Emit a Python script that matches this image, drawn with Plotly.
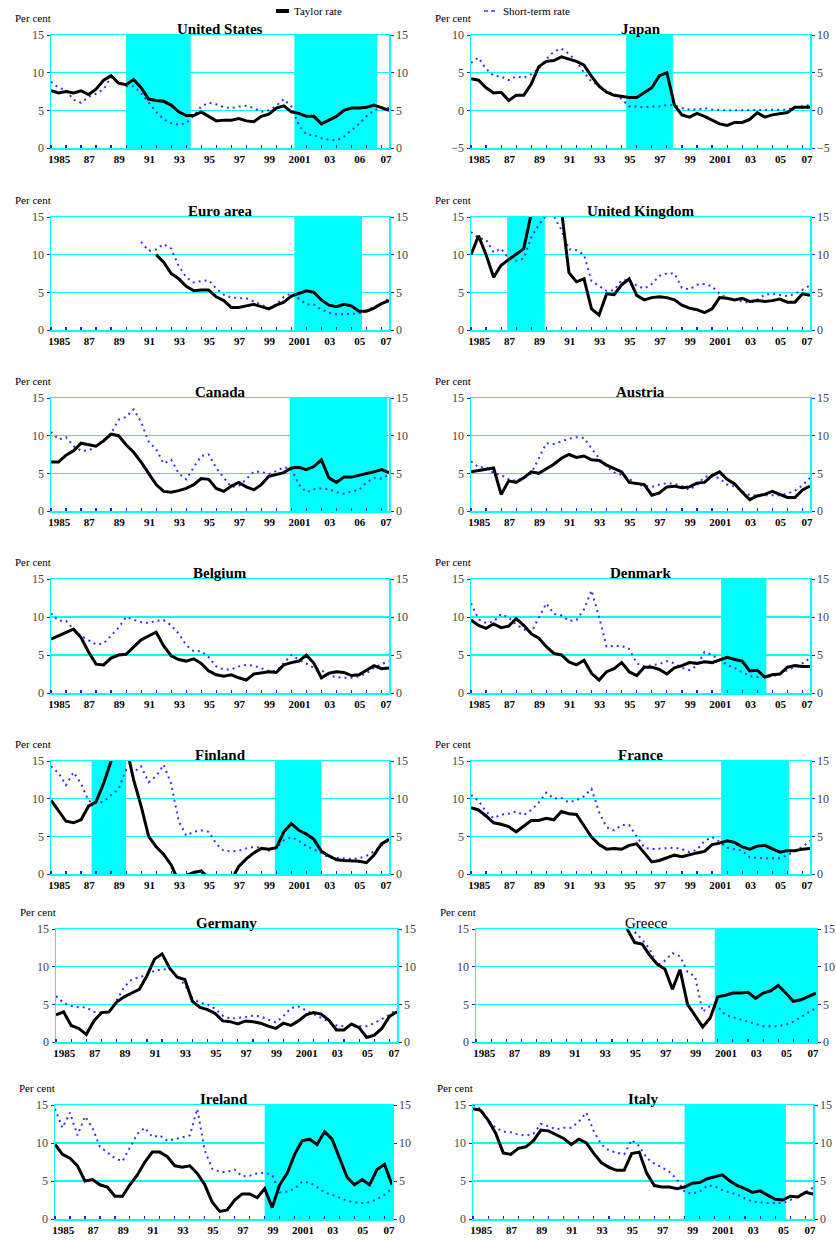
import plotly.graph_objects as go

# ---------------- data ----------------
PERIODS = [1985 + 0.5 * k for k in range(46)]  # semi-annual observations 1985.0 .. 2007.5

TICK_POS = [1985.55, 1987.55, 1989.55, 1991.55, 1993.55, 1995.55, 1997.55, 1999.55,
            2001.55, 2003.55, 2005.55, 2007.3]
TICK_TEXT_05 = ["1985", "87", "89", "91", "93", "95", "97", "99", "2001", "03", "05", "07"]
TICK_TEXT_06 = ["1985", "87", "89", "91", "93", "95", "97", "99", "2001", "03", "06", "07"]

N = None

US_TAYLOR = [7.6, 7.3, 7.5, 7.3, 7.6, 7.1, 7.8, 9.0, 9.6, 8.6,
             8.4, 9.1, 8.0, 6.5, 6.3, 6.2, 5.7, 4.8, 4.3, 4.3,
             4.8, 4.2, 3.6, 3.7, 3.7, 3.9, 3.6, 3.5, 4.2, 4.5,
             5.3, 5.6, 4.8, 4.6, 4.2, 4.2, 3.2, 3.7, 4.2, 5.0,
             5.3, 5.3, 5.4, 5.7, 5.3, 5.0]
US_SHORT = [8.8, 8.0, 7.7, 6.4, 6.0, 6.8, 7.2, 7.8, 9.4, 8.6,
            8.2, 8.2, 7.3, 6.0, 4.8, 3.8, 3.3, 3.1, 3.3, 4.3,
            5.5, 6.0, 5.8, 5.4, 5.3, 5.5, 5.6, 5.3, 4.8, 5.0,
            5.6, 6.5, 5.5, 3.0, 1.8, 1.7, 1.3, 1.1, 1.0, 1.5,
            2.3, 3.2, 4.2, 5.0, 5.3, 5.3]

JP_TAYLOR = [4.2, 4.0, 3.0, 2.3, 2.4, 1.3, 2.0, 2.0, 3.5, 5.8,
             6.5, 6.6, 7.1, 6.8, 6.5, 6.0, 4.5, 3.2, 2.4, 2.0,
             1.8, 1.7, 1.7, 2.4, 3.0, 4.6, 5.0, 0.7, -0.6, -0.9,
             -0.4, -0.8, -1.3, -1.8, -2.0, -1.6, -1.6, -1.2, -0.3, -0.9,
             -0.6, -0.4, -0.3, 0.4, 0.4, 0.4]
JP_SHORT = [6.3, 7.0, 5.5, 4.6, 4.5, 4.0, 4.5, 4.3, 4.8, 5.5,
            6.8, 7.8, 8.2, 7.5, 6.5, 5.0, 3.8, 3.3, 2.5, 2.2,
            1.5, 0.5, 0.5, 0.4, 0.5, 0.5, 0.7, 0.7, 0.3, 0.1,
            0.1, 0.3, 0.1, 0.0, 0.0, 0.0, 0.0, 0.0, 0.0, 0.0,
            0.0, 0.0, 0.1, 0.4, 0.6, 0.7]

EA_TAYLOR = [N] * 14 + [10.0, 9.0, 7.5, 6.8, 5.8, 5.2,
                        5.3, 5.3, 4.4, 3.9, 3.0, 3.0, 3.2, 3.4, 3.1, 2.8,
                        3.3, 3.7, 4.5, 4.8, 5.2, 5.0, 4.0, 3.3, 3.1, 3.4,
                        3.2, 2.5, 2.5, 2.9, 3.5, 3.9]
EA_SHORT = [N] * 12 + [11.7, 10.5, 10.7, 11.4, 10.8, 8.5, 7.0, 6.3,
                       6.5, 6.6, 5.5, 4.7, 4.3, 4.2, 4.2, 3.8, 3.4, 2.9,
                       3.4, 4.4, 4.9, 4.1, 3.4, 3.4, 2.7, 2.3, 2.1, 2.1,
                       2.1, 2.2, 2.6, 3.0, 3.5, 4.2]

UK_TAYLOR = [10.0, 12.5, 10.0, 7.0, 8.6, 9.3, 10.0, 10.8, 15.5, 18.0,
             19.0, 18.0, 16.0, 7.6, 6.4, 6.8, 2.8, 2.0, 4.8, 4.7,
             6.0, 6.8, 4.6, 4.0, 4.3, 4.4, 4.3, 4.0, 3.3, 2.9,
             2.7, 2.3, 2.8, 4.3, 4.2, 4.0, 4.2, 3.8, 3.9, 3.8,
             3.9, 4.1, 3.7, 3.7, 4.8, 4.6]
UK_SHORT = [13.0, 12.2, 12.0, 10.3, 10.8, 9.5, 9.2, 9.5, 12.3, 14.0,
            15.2, 15.1, 13.3, 10.7, 10.6, 10.0, 6.5, 5.8, 5.2, 5.3,
            6.6, 6.6, 5.9, 5.5, 6.1, 7.2, 7.5, 7.5, 5.6, 5.4,
            6.0, 6.1, 5.8, 4.8, 4.2, 4.0, 3.8, 3.6, 4.0, 4.7,
            4.8, 4.6, 4.5, 4.8, 5.4, 5.9]

CA_TAYLOR = [6.5, 6.5, 7.4, 8.0, 9.0, 8.8, 8.6, 9.3, 10.2, 10.0,
             8.8, 7.8, 6.5, 5.0, 3.5, 2.6, 2.5, 2.7, 3.0, 3.5,
             4.3, 4.2, 3.0, 2.6, 3.3, 3.8, 3.2, 2.8, 3.5, 4.6,
             4.9, 5.1, 5.7, 5.8, 5.5, 5.9, 6.8, 4.4, 3.8, 4.5,
             4.5, 4.7, 5.0, 5.2, 5.5, 5.1]
CA_SHORT = [10.5, 9.5, 9.8, 8.6, 8.0, 8.0, 8.6, 9.4, 10.3, 12.1,
            12.5, 13.5, 11.8, 9.2, 8.2, 6.3, 6.8, 5.0, 4.2, 5.8,
            7.3, 7.5, 5.7, 4.4, 3.2, 3.3, 4.3, 5.2, 5.2, 4.9,
            5.3, 5.8, 5.6, 3.5, 2.5, 2.9, 3.0, 2.9, 2.5, 2.3,
            2.6, 2.8, 3.8, 4.4, 4.3, 4.8]

AT_TAYLOR = [5.2, 5.4, 5.5, 5.7, 2.2, 4.0, 3.8, 4.4, 5.2, 5.0,
             5.6, 6.2, 7.0, 7.5, 7.1, 7.3, 6.8, 6.7, 6.1, 5.6,
             5.2, 3.8, 3.6, 3.5, 2.1, 2.4, 3.2, 3.3, 3.1, 3.2,
             3.7, 3.8, 4.7, 5.2, 4.2, 3.6, 2.5, 1.5, 2.0, 2.2,
             2.6, 2.2, 1.8, 1.8, 2.8, 3.3]
AT_SHORT = [6.6, 5.8, 5.8, 5.0, 4.8, 4.2, 4.0, 4.4, 5.0, 7.0,
            9.0, 8.9, 9.3, 9.6, 9.8, 9.7, 8.3, 7.0, 5.9, 5.1,
            4.8, 4.3, 3.5, 3.4, 3.2, 3.5, 3.7, 3.6, 3.3, 2.8,
            3.5, 4.5, 4.8, 4.3, 3.5, 3.3, 2.6, 2.1, 2.1, 2.1,
            2.1, 2.1, 2.3, 2.7, 3.4, 4.4]

BE_TAYLOR = [7.1, 7.5, 8.0, 8.4, 7.3, 5.4, 3.8, 3.7, 4.6, 5.0,
             5.1, 6.1, 7.0, 7.5, 8.0, 6.2, 4.9, 4.4, 4.2, 4.5,
             3.9, 2.9, 2.4, 2.2, 2.4, 2.0, 1.7, 2.5, 2.7, 2.8,
             2.7, 3.7, 4.0, 4.2, 5.0, 3.9, 2.0, 2.6, 2.8, 2.7,
             2.3, 2.4, 3.0, 3.6, 3.2, 3.3]
BE_SHORT = [10.5, 9.5, 9.5, 8.4, 7.5, 7.0, 6.4, 6.5, 7.5, 8.6,
            10.0, 9.6, 9.3, 9.2, 9.5, 9.6, 8.9, 7.8, 6.3, 5.5,
            5.5, 4.7, 3.5, 3.1, 3.1, 3.5, 3.7, 3.6, 3.3, 2.9,
            2.9, 4.0, 5.0, 4.4, 3.8, 3.3, 3.0, 2.3, 2.1, 2.0,
            2.0, 2.2, 2.6, 3.3, 3.8, 4.2]

DK_TAYLOR = [9.6, 8.9, 8.5, 9.1, 8.6, 8.8, 9.8, 8.9, 7.8, 7.2,
             6.1, 5.2, 5.0, 4.1, 3.7, 4.3, 2.6, 1.7, 2.8, 3.2,
             4.0, 2.8, 2.3, 3.4, 3.4, 3.1, 2.5, 3.3, 3.6, 4.0,
             3.9, 4.1, 4.0, 4.3, 4.7, 4.4, 4.2, 2.9, 3.0, 2.1,
             2.4, 2.5, 3.4, 3.6, 3.5, 3.5]
DK_SHORT = [11.8, 9.7, 9.2, 9.4, 10.4, 9.9, 9.0, 8.4, 8.0, 9.8,
            11.8, 10.4, 10.2, 9.5, 9.6, 11.0, 13.5, 10.0, 6.1, 6.2,
            6.2, 5.8, 3.9, 3.5, 3.7, 3.8, 4.2, 3.9, 3.3, 3.0,
            3.6, 5.4, 5.0, 4.3, 3.7, 3.3, 2.8, 2.2, 2.1, 2.1,
            2.2, 2.5, 3.0, 3.5, 3.9, 4.6]

FI_TAYLOR = [9.8, 8.4, 7.0, 6.8, 7.2, 9.0, 9.6, 12.0, 15.5, 18.0,
             17.0, 12.5, 9.0, 5.0, 3.6, 2.6, 1.2, -1.0, -0.2, 0.2,
             0.4, -0.6, -1.5, -1.5, -0.8, 1.0, 2.0, 2.8, 3.4, 3.3,
             3.5, 5.6, 6.7, 5.8, 5.3, 4.6, 3.0, 2.4, 1.9, 1.8,
             1.8, 1.7, 1.5, 2.5, 4.0, 4.6]
FI_SHORT = [14.3, 13.4, 11.8, 13.5, 12.0, 9.7, 9.4, 9.6, 10.5, 11.3,
            13.8, 13.5, 14.3, 12.2, 13.0, 14.5, 12.0, 7.0, 5.1, 5.6,
            5.8, 5.6, 4.0, 3.1, 3.0, 3.1, 3.4, 3.6, 3.5, 3.1,
            3.5, 4.5, 4.9, 4.4, 3.7, 3.3, 2.8, 2.2, 2.1, 2.0,
            2.0, 2.1, 2.4, 3.0, 3.7, 4.5]

FR_TAYLOR = [8.8, 8.5, 7.7, 6.8, 6.6, 6.3, 5.6, 6.4, 7.1, 7.1,
             7.4, 7.2, 8.3, 8.0, 7.9, 6.4, 4.9, 3.9, 3.3, 3.4,
             3.3, 3.8, 4.0, 2.8, 1.6, 1.8, 2.2, 2.5, 2.3, 2.5,
             2.8, 3.0, 3.9, 4.1, 4.4, 4.2, 3.6, 3.3, 3.7, 3.8,
             3.4, 2.9, 3.1, 3.1, 3.3, 3.4]
FR_SHORT = [10.5, 9.7, 8.3, 7.4, 7.9, 8.0, 8.3, 7.8, 8.5, 9.5,
            10.8, 10.0, 10.1, 9.5, 9.8, 10.3, 11.3, 8.2, 6.2, 5.8,
            6.5, 6.5, 5.0, 3.5, 3.3, 3.4, 3.5, 3.5, 3.3, 2.9,
            3.2, 4.4, 4.9, 4.3, 3.5, 3.3, 3.1, 2.2, 2.1, 2.1,
            2.1, 2.1, 2.5, 3.1, 3.6, 4.4]

DE_TAYLOR = [3.6, 4.0, 2.2, 1.8, 1.0, 2.8, 3.9, 4.0, 5.3, 6.0,
             6.5, 7.0, 8.8, 11.0, 11.7, 9.8, 8.6, 8.3, 5.4, 4.6,
             4.3, 3.8, 2.8, 2.7, 2.4, 2.8, 2.7, 2.5, 2.1, 1.8,
             2.5, 2.2, 2.8, 3.6, 3.9, 3.7, 2.9, 1.6, 1.6, 2.4,
             1.9, 0.6, 0.9, 1.8, 3.4, 4.0]
DE_SHORT = [6.1, 5.2, 4.8, 4.6, 4.6, 4.0, 3.9, 3.9, 5.5, 7.3,
            8.3, 8.6, 8.9, 9.5, 9.6, 9.7, 8.7, 7.6, 5.8, 5.2,
            5.0, 4.4, 3.5, 3.1, 3.2, 3.3, 3.5, 3.4, 3.0, 2.6,
            3.4, 4.5, 4.7, 4.2, 3.7, 3.3, 2.7, 2.2, 2.1, 2.1,
            2.0, 2.1, 2.5, 3.1, 3.6, 4.4]

GR_TAYLOR = [N] * 20 + [15.0, 13.2, 13.0, 11.5, 10.3, 9.7, 7.0, 9.6, 5.0, 3.5,
                        2.0, 3.2, 6.0, 6.2, 6.5, 6.5, 6.6, 5.8, 6.5, 6.8,
                        7.5, 6.5, 5.4, 5.6, 6.0, 6.5]
GR_SHORT = [N] * 21 + [14.6, 13.6, 12.3, 10.2, 10.8, 11.8, 11.4, 9.3, 8.7,
                       4.0, 4.8, 4.7, 3.6, 3.3, 3.0, 2.6, 2.3, 2.1, 2.1,
                       2.1, 2.3, 2.7, 3.3, 3.9, 4.5]

IE_TAYLOR = [9.8, 8.5, 8.0, 7.0, 5.0, 5.2, 4.5, 4.2, 3.0, 3.0,
             4.5, 5.8, 7.5, 8.8, 8.8, 8.2, 7.0, 6.8, 7.0, 6.0,
             4.5, 2.2, 1.0, 1.2, 2.5, 3.3, 3.3, 2.8, 4.0, 1.5,
             4.5, 6.0, 8.5, 10.3, 10.5, 9.8, 11.5, 10.5, 8.0, 5.5,
             4.5, 5.2, 4.5, 6.5, 7.2, 4.5]
IE_SHORT = [14.5, 12.0, 14.0, 11.0, 13.5, 12.0, 9.5, 8.8, 8.0, 7.6,
            9.5, 11.2, 12.0, 10.8, 11.0, 10.3, 10.5, 10.8, 11.0, 14.5,
            9.0, 6.6, 6.2, 6.2, 6.5, 5.6, 5.7, 6.0, 6.1, 5.8,
            3.5, 3.6, 4.0, 4.9, 4.8, 4.2, 3.5, 3.2, 2.8, 2.4,
            2.2, 2.1, 2.2, 2.6, 3.2, 4.0]

IT_TAYLOR = [14.5, 14.3, 13.0, 11.3, 8.7, 8.5, 9.3, 9.5, 10.3, 11.7,
             11.6, 11.1, 10.6, 9.8, 10.5, 10.0, 8.6, 7.4, 6.8, 6.4,
             6.4, 8.6, 8.8, 6.0, 4.4, 4.2, 4.2, 4.0, 4.2, 4.7,
             4.8, 5.3, 5.5, 5.8, 5.0, 4.4, 4.0, 3.5, 3.7, 3.1,
             2.6, 2.5, 3.0, 2.9, 3.5, 3.3]
IT_SHORT = [15.0, 14.5, 13.0, 12.0, 11.5, 11.4, 11.1, 11.0, 11.2, 12.5,
            12.2, 11.8, 12.0, 12.0, 12.8, 14.0, 11.5, 9.8, 9.0, 8.7,
            8.5, 10.4, 9.6, 8.0, 7.3, 6.8, 6.2, 5.2, 3.6, 3.3,
            3.6, 4.4, 4.3, 3.8, 3.5, 3.2, 2.7, 2.3, 2.2, 2.1,
            2.1, 2.1, 2.5, 3.0, 3.5, 4.1]

# shaded periods (start, end) in years
US_SHADE = [(1990.0, 1994.3), (2001.2, 2006.7)]
JP_SHADE = [(1995.3, 1998.4)]
EA_SHADE = [(2001.2, 2005.7)]
UK_SHADE = [(1987.4, 1989.9)]
CA_SHADE = [(2000.9, 2007.4)]
AT_SHADE = []
BE_SHADE = []
DK_SHADE = [(2001.6, 2004.6)]
FI_SHADE = [(1987.7, 1990.0), (1999.9, 2003.0)]
FR_SHADE = [(2001.6, 2006.1)]
DE_SHADE = []
GR_SHADE = [(2000.8, 2007.5)]
IE_SHADE = [(1999.0, 2007.5)]
IT_SHADE = [(1999.0, 2005.7)]

PANELS = [
    ("United States", US_TAYLOR, US_SHORT, US_SHADE, "pos", TICK_TEXT_06),
    ("Japan", JP_TAYLOR, JP_SHORT, JP_SHADE, "jp", TICK_TEXT_05),
    ("Euro area", EA_TAYLOR, EA_SHORT, EA_SHADE, "pos", TICK_TEXT_05),
    ("United Kingdom", UK_TAYLOR, UK_SHORT, UK_SHADE, "pos", TICK_TEXT_05),
    ("Canada", CA_TAYLOR, CA_SHORT, CA_SHADE, "pos", TICK_TEXT_06),
    ("Austria", AT_TAYLOR, AT_SHORT, AT_SHADE, "pos", TICK_TEXT_05),
    ("Belgium", BE_TAYLOR, BE_SHORT, BE_SHADE, "pos", TICK_TEXT_05),
    ("Denmark", DK_TAYLOR, DK_SHORT, DK_SHADE, "pos", TICK_TEXT_05),
    ("Finland", FI_TAYLOR, FI_SHORT, FI_SHADE, "pos", TICK_TEXT_05),
    ("France", FR_TAYLOR, FR_SHORT, FR_SHADE, "pos", TICK_TEXT_05),
    ("Germany", DE_TAYLOR, DE_SHORT, DE_SHADE, "pos", TICK_TEXT_05),
    ("Greece", GR_TAYLOR, GR_SHORT, GR_SHADE, "pos", TICK_TEXT_05),
    ("Ireland", IE_TAYLOR, IE_SHORT, IE_SHADE, "pos", TICK_TEXT_05),
    ("Italy", IT_TAYLOR, IT_SHORT, IT_SHADE, "pos", TICK_TEXT_05),
]
Y_SCALES = {"pos": ([0, 15], [0, 5, 10, 15]), "jp": ([-5, 10], [-5, 0, 5, 10])}

# ---------------- layout geometry (pixels) ----------------
W, H = 836, 1241
ROWS = [(35, 148), (217, 330), (398, 511), (579, 693), (761, 874), (929, 1042), (1105, 1219)]
COLS = {"L": (51, 389), "R": (471, 810)}
SPECIAL_X = {"Germany": (56, 397), "Greece": (476, 816), "Ireland": (55, 392), "Italy": (473, 813)}

CYAN = "#00FFFF"
BLUE = "#3434F0"
FONT = "Liberation Serif"

fig = go.Figure()
layout = dict(width=W, height=H, margin=dict(l=0, r=0, t=0, b=0, pad=0, autoexpand=False),
              paper_bgcolor="white", plot_bgcolor="white", showlegend=False,
              font=dict(family=FONT, color="black"))
shapes = []
annotations = []

for i, (name, taylor, short, shades, yscale, ttext) in enumerate(PANELS, start=1):
    row, col = (i - 1) // 2, "L" if i % 2 == 1 else "R"
    x0, x1 = SPECIAL_X.get(name, COLS[col])
    y0, y1 = ROWS[row]
    yr, ytv = Y_SCALES[yscale]
    sx = "" if i == 1 else str(i)
    xname, yname, yrname = "x" + sx, "y" + sx, "y" + str(14 + i)

    layout["xaxis" + sx] = dict(
        domain=[x0 / W, x1 / W], anchor=yname, range=[1985, 2007.5],
        tickvals=TICK_POS, ticktext=["<b>%s</b>" % t for t in ttext],
        ticks="", showgrid=False, zeroline=False, showline=True, mirror=True,
        linecolor=CYAN, linewidth=1.5, automargin=False,
        tickfont=dict(family=FONT, size=11, color="black"),
        minor=dict(ticks="inside", tick0=1985, dtick=1, ticklen=3,
                   tickcolor="#2828c8", tickwidth=1.2, showgrid=False),
        fixedrange=True)
    layout["yaxis" + sx] = dict(
        domain=[1 - y1 / H, 1 - y0 / H], anchor=xname, range=yr, tickvals=ytv,
        showgrid=True, gridcolor=CYAN, gridwidth=1.5, zeroline=False,
        showline=True, linecolor=CYAN, linewidth=1.5, automargin=False,
        ticks="outside", ticklen=3, tickcolor="#2828c8",
        tickfont=dict(family=FONT, size=12, color="#444444"), fixedrange=True)
    layout["yaxis" + str(14 + i)] = dict(
        overlaying=yname, side="right", anchor=xname, range=yr, tickvals=ytv,
        showgrid=False, zeroline=False, showline=True, linecolor=CYAN, linewidth=1.5,
        ticks="outside", ticklen=3, tickcolor="#2828c8", automargin=False,
        tickfont=dict(family=FONT, size=12, color="#444444"), fixedrange=True)

    fig.add_trace(go.Scatter(x=PERIODS, y=short, mode="lines", name="Short-term rate",
                             line=dict(color=BLUE, width=2, dash="2px,4px"),
                             xaxis=xname, yaxis=yname, hoverinfo="skip"))
    fig.add_trace(go.Scatter(x=PERIODS, y=taylor, mode="lines", name="Taylor rate",
                             line=dict(color="black", width=3),
                             xaxis=xname, yaxis=yrname, hoverinfo="skip"))

    for (a, b) in shades:
        shapes.append(dict(type="rect", xref=xname, yref=yname + " domain",
                           x0=a, x1=b, y0=0, y1=1, fillcolor=CYAN,
                           line=dict(width=0), layer="below"))

    title = name if name == "Greece" else "<b>%s</b>" % name
    annotations.append(dict(text=title, xref=xname + " domain", yref=yname + " domain",
                            x=0.5, y=1, xanchor="center", yanchor="bottom", yshift=-4,
                            showarrow=False, font=dict(family=FONT, size=15, color="black")))
    annotations.append(dict(text="Per cent", xref="paper", yref="paper",
                            x=x0 / W, y=1 - (y0 - 17) / H, xanchor="right", yanchor="middle",
                            xshift=2, showarrow=False,
                            font=dict(family=FONT, size=11, color="black")))

# manual legend
shapes.append(dict(type="line", xref="paper", yref="paper",
                   x0=276 / W, x1=289 / W, y0=1 - 11 / H, y1=1 - 11 / H,
                   line=dict(color="black", width=4)))
annotations.append(dict(text="Taylor rate", xref="paper", yref="paper",
                        x=292 / W, y=1 - 11 / H, xanchor="left", yanchor="middle",
                        showarrow=False, font=dict(family=FONT, size=11, color="black")))
shapes.append(dict(type="line", xref="paper", yref="paper",
                   x0=484 / W, x1=498 / W, y0=1 - 11 / H, y1=1 - 11 / H,
                   line=dict(color=BLUE, width=1.5, dash="4px,3px")))
annotations.append(dict(text="Short-term rate", xref="paper", yref="paper",
                        x=501 / W, y=1 - 11 / H, xanchor="left", yanchor="middle",
                        showarrow=False, font=dict(family=FONT, size=11, color="black")))

layout["shapes"] = shapes
layout["annotations"] = annotations
fig.update_layout(**layout)
fig.write_html("out.html",
               config={"displayModeBar": False, "staticPlot": True},
               post_script="document.body.style.margin='0';document.body.style.padding='0';")
